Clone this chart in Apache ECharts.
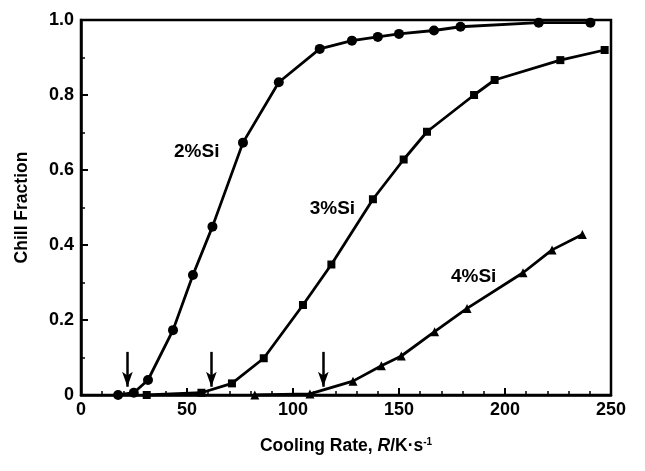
<!DOCTYPE html>
<html>
<head>
<meta charset="utf-8">
<script src="https://cdn.jsdelivr.net/npm/echarts@6/dist/echarts.min.js"></script>
<style>
  html, body { margin: 0; padding: 0; background: #fff; }
  #chart { width: 645px; height: 471px; }
</style>
</head>
<body>
<div id="chart"></div>
<script>
// Chill fraction vs. cooling rate for three silicon contents
const si2X = [17.5, 24.9, 31.6, 43.4, 52.8, 62.0, 76.4, 93.3, 112.6, 127.8, 140.0, 150.0, 166.5, 179.0, 215.9, 240.3];
const si2Y = [0.0, 0.006, 0.04, 0.173, 0.32, 0.449, 0.673, 0.834, 0.923, 0.945, 0.955, 0.963, 0.972, 0.982, 0.993, 0.993];

const si3X = [31.0, 56.8, 71.2, 86.2, 104.7, 118.1, 137.7, 152.2, 163.2, 185.4, 195.1, 226.1, 247.0];
const si3Y = [0.0, 0.006, 0.031, 0.098, 0.24, 0.348, 0.522, 0.628, 0.702, 0.80, 0.84, 0.893, 0.92];

const si4X = [82.0, 108.0, 128.3, 141.7, 151.1, 166.8, 182.1, 208.5, 222.2, 236.5];
const si4Y = [0.0, 0.003, 0.037, 0.078, 0.104, 0.169, 0.231, 0.326, 0.387, 0.428];

// Critical cooling rates marked with arrows
const arrowX = [21.9, 61.5, 114.3];
const arrowTop = 0.115;
const arrowTip = 0.022;

// Curve labels
const labelText = ['2%Si', '3%Si', '4%Si'];
const labelX = [54.6, 118.6, 185.2];
const labelY = [0.648, 0.496, 0.315];

const xTicks = [0, 50, 100, 150, 200, 250];
const yTicks = [0, 0.2, 0.4, 0.6, 0.8, 1.0];

const FONT = '"Liberation Sans", Arial, sans-serif';
const zip = (xs, ys) => xs.map((x, i) => [x, ys[i]]);

const lineStyle = { color: '#000', width: 2.8 };

const chart = echarts.init(document.getElementById('chart'));
chart.setOption({
  animation: false,
  backgroundColor: '#fff',
  grid: {
    left: 81, right: 34, top: 20, bottom: 76,
    show: true, borderColor: '#000', borderWidth: 2.5, backgroundColor: 'transparent'
  },
  xAxis: {
    type: 'value',
    min: xTicks[0], max: xTicks[xTicks.length - 1], interval: 50,
    name: 'Cooling Rate, {i|R}/K·s{sup|-1}',
    nameLocation: 'middle', nameGap: 42,
    nameTextStyle: {
      fontFamily: FONT, fontSize: 17.5, fontWeight: 'bold', color: '#000',
      rich: {
        i: { fontFamily: FONT, fontSize: 17.5, fontWeight: 'bold', fontStyle: 'italic', color: '#000' },
        sup: { fontFamily: FONT, fontSize: 10, fontWeight: 'bold', color: '#000', verticalAlign: 'top', padding: [0, 0, 9, 0] }
      }
    },
    axisLine: { show: true, lineStyle: { color: '#000', width: 2.5 } },
    axisTick: { show: true, inside: true, length: 7, lineStyle: { color: '#000', width: 2 } },
    minorTick: { show: true, splitNumber: 5, length: 4, lineStyle: { color: '#000', width: 1.5 } },
    splitLine: { show: false },
    axisLabel: { fontFamily: FONT, fontSize: 18, fontWeight: 'bold', color: '#000', margin: 6 }
  },
  yAxis: {
    type: 'value',
    min: yTicks[0], max: yTicks[yTicks.length - 1], interval: 0.2,
    name: 'Chill Fraction',
    nameLocation: 'middle', nameGap: 50, nameRotate: 90,
    nameTextStyle: { fontFamily: FONT, fontSize: 17.5, fontWeight: 'bold', color: '#000' },
    axisLine: { show: true, lineStyle: { color: '#000', width: 2.5 } },
    axisTick: { show: true, inside: true, length: 7, lineStyle: { color: '#000', width: 2 } },
    minorTick: { show: true, splitNumber: 2, length: 4, lineStyle: { color: '#000', width: 1.5 } },
    splitLine: { show: false },
    axisLabel: {
      fontFamily: FONT, fontSize: 18, fontWeight: 'bold', color: '#000', margin: 7,
      formatter: v => (v === 0 ? '0' : v.toFixed(1))
    }
  },
  series: [
    {
      type: 'line', data: zip(si2X, si2Y), symbol: 'circle', symbolSize: 10,
      itemStyle: { color: '#000' }, lineStyle, z: 3
    },
    {
      type: 'line', data: zip(si3X, si3Y), symbol: 'rect', symbolSize: 8,
      itemStyle: { color: '#000' }, lineStyle, z: 3
    },
    {
      type: 'line', data: zip(si4X, si4Y), symbol: 'triangle', symbolSize: 9,
      itemStyle: { color: '#000' }, lineStyle, z: 3,
      markLine: {
        silent: true,
        symbolSize: [8, 15],
        lineStyle: { color: '#000', width: 2.5, type: 'solid' },
        label: { show: false },
        data: arrowX.map(x => [
          { coord: [x, arrowTop], symbol: 'none' },
          { coord: [x, arrowTip], symbol: 'arrow' }
        ])
      }
    },
    {
      type: 'scatter',
      data: labelText.map((t, i) => ({ value: [labelX[i], labelY[i]], name: t })),
      symbolSize: 0,
      itemStyle: { opacity: 1 },
      label: {
        show: true, position: 'inside',
        formatter: p => p.name,
        fontFamily: FONT, fontSize: 19, fontWeight: 'bold', color: '#000', opacity: 1
      },
      z: 4
    }
  ]
});
</script>
</body>
</html>
